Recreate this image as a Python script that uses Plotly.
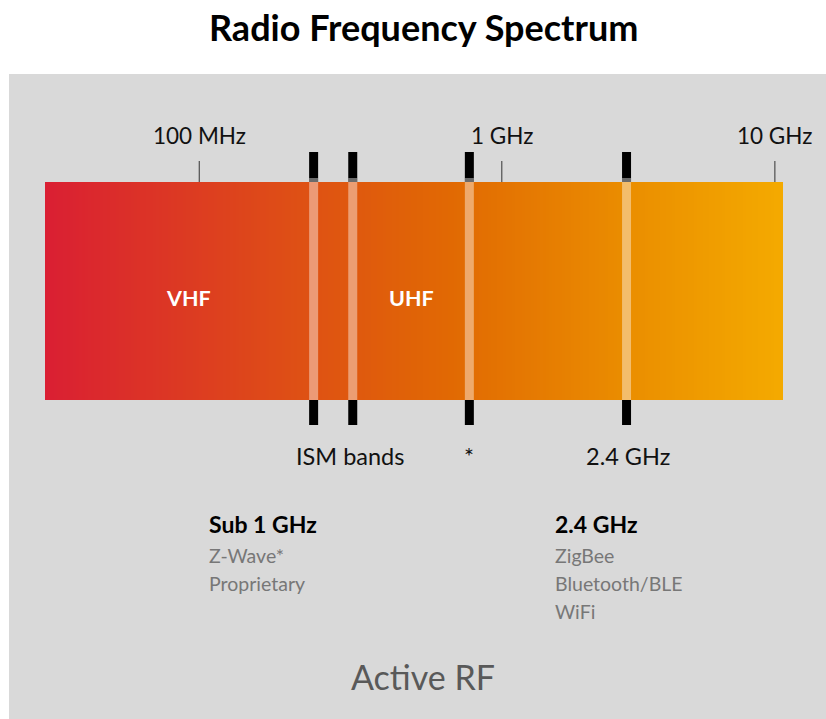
import numpy as np
import plotly.graph_objects as go

# ---- data (schematic positions along the bar, 0 = left edge, 100 = right edge) ----
freq_tick_labels = ["100 MHz", "1 GHz", "10 GHz"]
freq_tick_pos = [20.9, 61.9, 98.9]

band_region_labels = ["VHF", "UHF"]
band_region_pos = [19.4, 49.6]

ism_band_pos = [36.4, 41.7, 57.5, 78.8]

band_note_labels = ["ISM bands", "*", "2.4 GHz"]
band_note_pos = [41.3, 57.5, 79.0]

group_headers = ["Sub 1 GHz", "2.4 GHz"]
group_pos = [22.0, 68.8]
group_items = [["Z-Wave*", "Proprietary"], ["ZigBee", "Bluetooth/BLE", "WiFi"]]

FONT = "Lato"
W, H = 826, 719

# bar spans page px 45..783 horizontally, 400..182 vertically
xs = 7.38
x0 = -45 / xs
x1 = x0 + W / xs
ys = 218.0
y0 = -(H - 400) / ys
y1 = y0 + H / ys


def yv(page_y):
    return (400 - page_y) / ys


fig = go.Figure()

# gradient bar
n = 240
edges = np.linspace(0, 100, n + 1)
centers = (edges[:-1] + edges[1:]) / 2
fig.add_trace(go.Heatmap(
    x=edges, y=[0, 1], z=[centers],
    colorscale=[[0, "#DA1F33"], [0.33, "#DE4E16"], [0.55, "#E16903"],
                [0.8, "#EB8F00"], [1, "#F4AA00"]],
    showscale=False, hoverinfo="skip", zmin=0, zmax=100,
))

shapes = []
# gray panel
shapes.append(dict(type="rect", xref="paper", yref="paper",
                   x0=9 / W, x1=1, y0=0, y1=1 - 74 / H,
                   fillcolor="#D9D9D9", line=dict(width=0), layer="below"))
hw = 4.5 / xs
for p in ism_band_pos:
    shapes.append(dict(type="rect", xref="x", yref="y", x0=p - hw, x1=p + hw,
                       y0=1.0, y1=yv(152), fillcolor="black", line=dict(width=0)))
    shapes.append(dict(type="rect", xref="x", yref="y", x0=p - hw, x1=p + hw,
                       y0=yv(425), y1=0, fillcolor="black", line=dict(width=0)))
    shapes.append(dict(type="rect", xref="x", yref="y", x0=p - hw, x1=p + hw,
                       y0=0, y1=yv(178), fillcolor="rgba(255,255,255,0.42)",
                       line=dict(width=0)))
for p in freq_tick_pos:
    shapes.append(dict(type="line", xref="x", yref="y", x0=p, x1=p,
                       y0=1.0, y1=yv(161), line=dict(color="#333333", width=1)))

ann = []
ann.append(dict(text="<b>Radio Frequency Spectrum</b>", xref="paper", yref="paper",
                x=423 / W, y=1 - 27 / H, showarrow=False,
                xanchor="center", yanchor="middle",
                font=dict(family=FONT, size=36, color="black")))
for lab, p in zip(freq_tick_labels, freq_tick_pos):
    ann.append(dict(text=lab, x=p, y=yv(135), showarrow=False, yanchor="middle",
                    font=dict(family=FONT, size=22.5, color="#111111")))
for lab, p in zip(band_region_labels, band_region_pos):
    ann.append(dict(text=f"<b>{lab}</b>", x=p, y=yv(298), showarrow=False, yanchor="middle",
                    font=dict(family=FONT, size=21.5, color="white")))
for lab, p in zip(band_note_labels, band_note_pos):
    ann.append(dict(text=lab, x=p, y=yv(456), showarrow=False, yanchor="middle",
                    font=dict(family=FONT, size=23.5, color="#111111")))
for hdr, p, items in zip(group_headers, group_pos, group_items):
    ann.append(dict(text=f"<b>{hdr}</b>", x=p, y=yv(524), showarrow=False,
                    xanchor="left", yanchor="middle",
                    font=dict(family=FONT, size=23, color="black")))
    for i, it in enumerate(items):
        ann.append(dict(text=it, x=p, y=yv(555 + 28 * i), showarrow=False,
                        xanchor="left", yanchor="middle",
                        font=dict(family=FONT, size=19.5, color="#777777")))
ann.append(dict(text="Active RF", xref="paper", yref="paper", x=423 / W, y=1 - 676 / H,
                showarrow=False, xanchor="center", yanchor="middle",
                font=dict(family=FONT, size=34, color="#595959")))

fig.update_layout(
    width=W, height=H, margin=dict(l=0, r=0, t=0, b=0),
    paper_bgcolor="white", plot_bgcolor="rgba(0,0,0,0)",
    xaxis=dict(range=[x0, x1], visible=False, domain=[0, 1], fixedrange=True),
    yaxis=dict(range=[y0, y1], visible=False, domain=[0, 1], fixedrange=True),
    shapes=shapes, annotations=ann, showlegend=False,
)
fig.write_html("out.html", config={"displayModeBar": False},
               post_script="document.body.style.margin='0px';document.body.style.overflow='hidden';")
